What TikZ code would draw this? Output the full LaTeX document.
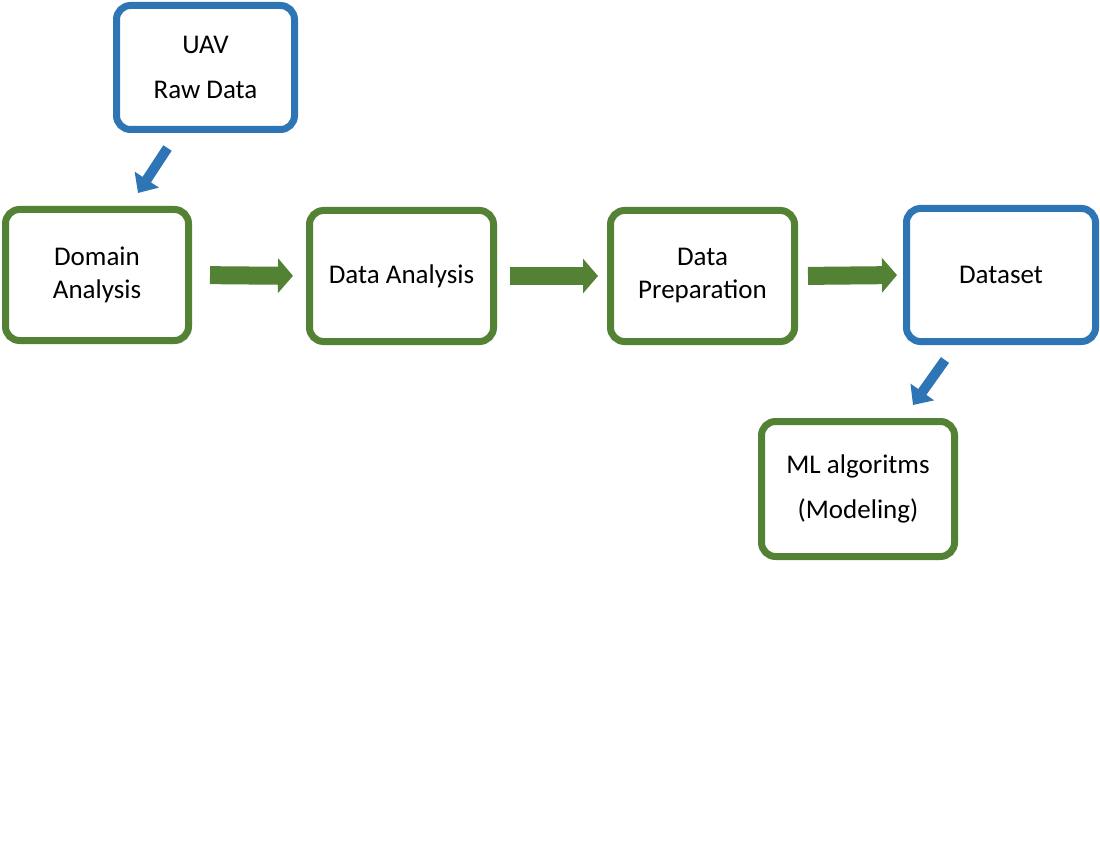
\documentclass[tikz,border=0pt]{standalone}
\usepackage{fontspec}
\setmainfont{Carlito}
\usetikzlibrary{arrows.meta}
\definecolor{stepgreen}{HTML}{548235}
\definecolor{stepblue}{HTML}{2E75B6}

\begin{document}
\begin{tikzpicture}[x=1pt,y=-1pt,
  box/.style={draw,line width=7pt,rounded corners=14pt,align=center,font=\fontsize{27}{33}\selectfont},
  greenbox/.style={box,draw=stepgreen},
  bluebox/.style={box,draw=stepblue},
  wide/.style={font=\fontsize{27}{45}\selectfont},
  flow/.style={stepgreen,line width=18pt,-{Triangle[width=34pt,length=15pt]}},
  feed/.style={stepblue,line width=10pt,-{Triangle[width=28pt,length=16pt]}}]
\useasboundingbox (0,0) rectangle (1100,850);
% boxes
\node[bluebox,wide,minimum width=178pt,minimum height=124pt] (uav) at (205.5,67.5) {UAV\\Raw Data};
\node[greenbox,minimum width=183pt,minimum height=131pt] (domain) at (97,275) {Domain\\Analysis};
\node[greenbox,minimum width=184pt,minimum height=131pt] (analysis) at (401.5,276) {Data Analysis};
\node[greenbox,minimum width=184pt,minimum height=131pt] (prep) at (702.5,276) {Data\\Preparation};
\node[bluebox,minimum width=189pt,minimum height=133pt] (dataset) at (1001,275) {Dataset};
\node[greenbox,wide,minimum width=193pt,minimum height=135pt] (ml) at (858,489) {ML algoritms\\(Modeling)};
% arrows
\coordinate (uavtail) at ([shift={(-38,15)}]uav.south);
\coordinate (domaintip) at ([shift={(41,-13)}]domain.north);
\coordinate (settail) at ([shift={(-56,15)}]dataset.south);
\coordinate (mltip) at ([shift={(55,-13)}]ml.north);
\draw[feed] (uavtail) -- (domaintip);
\draw[feed] (settail) -- (mltip);
\draw[flow,shorten <=18pt,shorten >=13pt] (domain.east) -- (analysis.west);
\draw[flow,shorten <=13pt,shorten >=9pt] (analysis.east) -- (prep.west);
\draw[flow,shorten <=10pt,shorten >=6pt] (prep.east) -- (dataset.west);
\end{tikzpicture}
\end{document}
